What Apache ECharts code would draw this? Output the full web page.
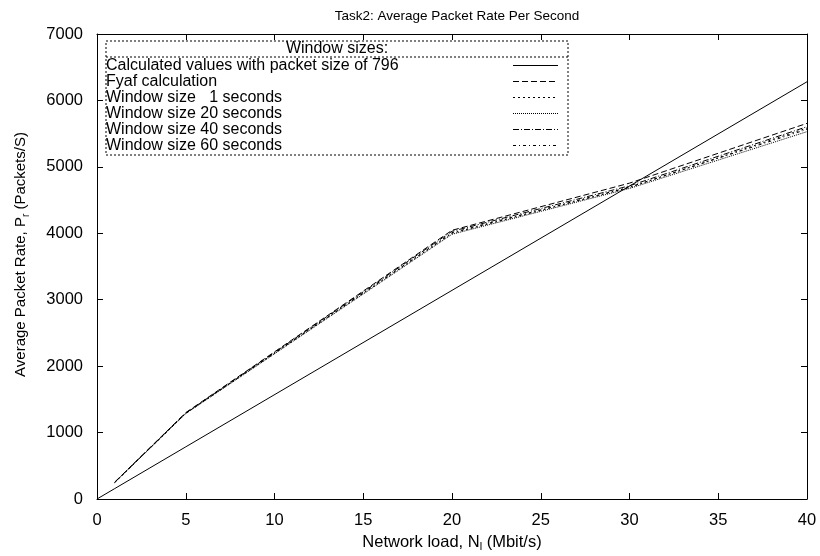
<!DOCTYPE html>
<html>
<head>
<meta charset="utf-8">
<script src="https://cdn.jsdelivr.net/npm/echarts@6/dist/echarts.min.js"></script>
<style>
  html, body { margin: 0; padding: 0; background: #fff; }
  #chart { width: 820px; height: 556px; }
</style>
</head>
<body>
<div id="chart"></div>
<script>
// Network load (Mbit/s) at which each rate was measured
var loads = [1, 5, 20, 30, 40];

// Theoretical packet rate for 796-byte packets (starts at the origin)
var calcLoads = [0, 1, 5, 20, 30, 40];
var calcRates = [0, 157, 785, 3141, 4711, 6281];

// Measured / estimated average packet rates (packets/s)
var fyafRates = [255, 1300, 4045, 4755, 5655];
var win1Rates = [250, 1290, 4000, 4690, 5585];
var win20Rates = [248, 1285, 3985, 4675, 5530];
var win40Rates = [252, 1295, 4030, 4715, 5605];
var win60Rates = [250, 1290, 4010, 4695, 5565];

var seriesNames = [
  'Calculated values with packet size of 796',
  'Fyaf calculation',
  'Window size   1 seconds',
  'Window size 20 seconds',
  'Window size 40 seconds',
  'Window size 60 seconds'
];

var xTicks = [0, 5, 10, 15, 20, 25, 30, 35, 40];
var yTicks = [0, 1000, 2000, 3000, 4000, 5000, 6000, 7000];

// Dash patterns, one per series (null = solid)
var dashes = [null, [6, 3], [2, 3], [1, 1], [6, 2, 1, 2], [3, 3, 1, 3]];

function pairs(xs, ys) {
  return xs.map(function (x, i) { return [x, ys[i]]; });
}

var seriesData = [
  pairs(calcLoads, calcRates),
  pairs(loads, fyafRates),
  pairs(loads, win1Rates),
  pairs(loads, win20Rates),
  pairs(loads, win40Rates),
  pairs(loads, win60Rates)
];

var FONT = 'Liberation Sans, Arial, Helvetica, sans-serif';

var chart = echarts.init(document.getElementById('chart'), null, { renderer: 'canvas' });

var axisCommon = {
  type: 'value',
  axisLine: { show: true, onZero: false, lineStyle: { color: '#000', width: 1 } },
  axisTick: { show: true, inside: true, length: 6, lineStyle: { color: '#000', width: 1 } },
  splitLine: { show: false }
};

function subRich(size) {
  return { sub: { fontSize: size, fontFamily: FONT, color: '#000', padding: [10, 0, 0, 0] } };
}

// Legend box drawn as graphic elements
var LX = 106, LY = 41, LW = 462, LH = 114;
var legendEls = [
  { type: 'rect', shape: { x: LX, y: LY, width: LW, height: LH },
    style: { fill: '#fff', stroke: '#000', lineWidth: 1, lineDash: [2, 2] }, z: 100 },
  { type: 'line', shape: { x1: LX, y1: 57, x2: LX + LW, y2: 57 },
    style: { stroke: '#000', lineWidth: 1, lineDash: [2, 2] }, z: 101 },
  { type: 'text', x: LX + LW / 2, y: 49,
    style: { text: 'Window sizes:', font: '16px ' + FONT, fill: '#000', align: 'center', verticalAlign: 'middle' }, z: 101 }
];
seriesNames.forEach(function (name, i) {
  var yy = 65.5 + i * 16;
  legendEls.push({ type: 'text', x: LX, y: yy,
    style: { text: name, font: '16px ' + FONT, fill: '#000', align: 'left', verticalAlign: 'middle' }, z: 101 });
  legendEls.push({ type: 'line', shape: { x1: 513, y1: yy, x2: 558, y2: yy },
    style: { stroke: '#000', lineWidth: 1, lineDash: dashes[i] || null }, z: 101 });
});

var option = {
  backgroundColor: '#fff',
  animation: false,
  title: {
    text: 'Task2: Average Packet Rate Per Second',
    left: 452, top: 4, textAlign: 'center',
    textStyle: { fontFamily: FONT, fontSize: 13.5, fontWeight: 'normal', color: '#000' }
  },
  grid: { left: 97, right: 13, top: 34, bottom: 57, containLabel: false, outerBoundsMode: 'none' },
  xAxis: [
    Object.assign({}, axisCommon, {
      position: 'bottom', min: 0, max: 40, interval: 5,
      axisLabel: { color: '#000', fontFamily: FONT, fontSize: 16.5, margin: 13,
        formatter: function (v) { return xTicks.indexOf(v) >= 0 ? String(v) : ''; } },
      name: 'Network load, N{sub|l} (Mbit/s)',
      nameLocation: 'middle', nameGap: 32,
      nameTextStyle: { color: '#000', fontFamily: FONT, fontSize: 16.5, rich: subRich(11) }
    }),
    Object.assign({}, axisCommon, {
      position: 'top', min: 0, max: 40, interval: 5,
      axisLabel: { show: false }
    })
  ],
  yAxis: [
    Object.assign({}, axisCommon, {
      position: 'left', min: 0, max: 7000, interval: 1000,
      axisLabel: { color: '#000', fontFamily: FONT, fontSize: 16.5, margin: 14,
        formatter: function (v) { return yTicks.indexOf(v) >= 0 ? String(v) : ''; } },
      name: 'Average Packet Rate, P{sub|r} (Packets/S)',
      nameLocation: 'middle', nameGap: 66, nameRotate: 90,
      nameTextStyle: { color: '#000', fontFamily: FONT, fontSize: 15, rich: subRich(10),
        padding: [0, 0, 0, 24] }
    }),
    Object.assign({}, axisCommon, {
      position: 'right', min: 0, max: 7000, interval: 1000,
      axisLabel: { show: false }
    })
  ],
  series: seriesNames.map(function (name, i) {
    return {
      name: name,
      type: 'line',
      xAxisIndex: 0,
      yAxisIndex: 0,
      data: seriesData[i],
      showSymbol: false,
      symbol: 'none',
      lineStyle: { color: '#000', width: 1, type: dashes[i] || 'solid' },
      z: 10 - i
    };
  }),
  graphic: legendEls
};

chart.setOption(option);
</script>
</body>
</html>
